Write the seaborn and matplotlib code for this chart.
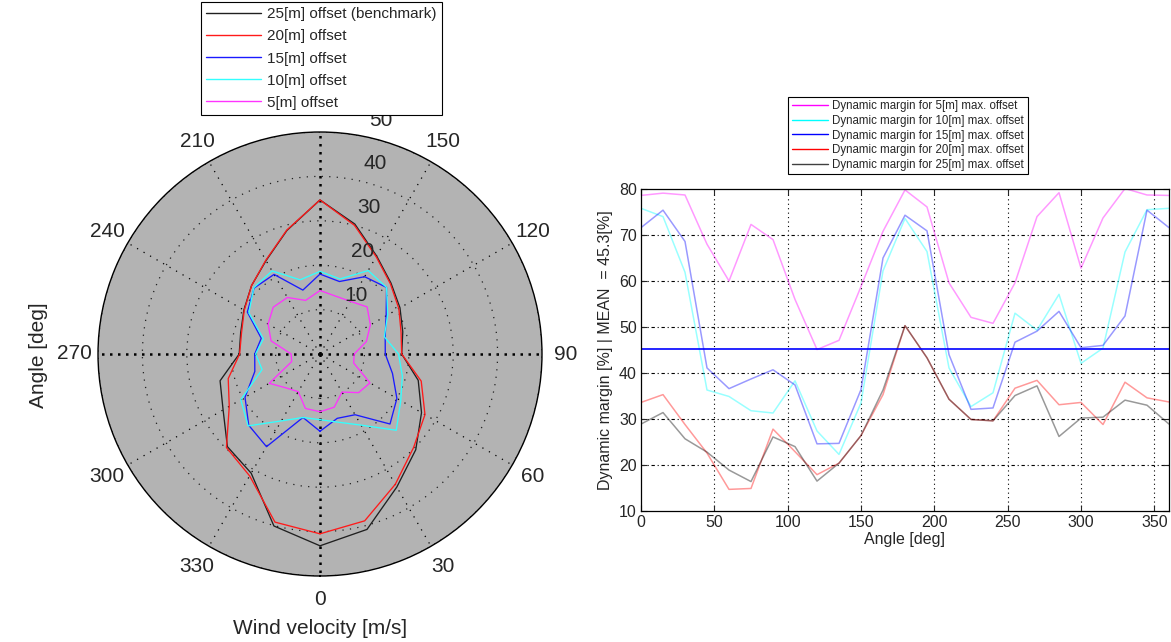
import numpy as np
import pandas as pd
import matplotlib
matplotlib.use("Agg")
import matplotlib.pyplot as plt
import matplotlib.transforms as mtransforms
from matplotlib.lines import Line2D
import seaborn as sns

# ---------------- data ----------------
# polar chart: wind velocity limit [m/s] per heading, 15 deg steps
polar_angles = list(range(0, 360, 15))
vel_25m = [43.2, 40.9, 34.6, 30.5, 26.4, 22.9, 18.4, 19.3, 20.8, 22.6, 25.5, 30.3,
           34.7, 28.8, 24.3, 21.8, 19.8, 18.5, 18.2, 23.3, 25.2, 29.5, 31.0, 40.1]
vel_20m = [40.5, 38.9, 33.9, 29.8, 27.3, 23.6, 18.4, 18.9, 20.5, 22.4, 25.3, 30.0,
           34.7, 28.9, 24.4, 21.8, 19.7, 18.3, 18.1, 21.4, 23.6, 29.8, 31.7, 39.2]
vel_15m = [17.4, 15.0, 15.8, 22.3, 20.0, 16.9, 14.7, 15.2, 17.2, 21.2, 20.1, 16.9,
           18.0, 14.9, 20.7, 21.0, 18.9, 13.7, 14.7, 15.2, 19.5, 22.7, 24.1, 14.8]
vel_10m = [14.8, 15.9, 18.5, 24.3, 21.0, 19.2, 17.7, 15.0, 17.6, 21.2, 21.7, 17.5,
           18.6, 17.3, 21.6, 21.1, 18.5, 13.2, 14.5, 13.5, 20.6, 22.9, 17.4, 14.8]
vel_5m = [13.0, 12.4, 9.9, 12.3, 13.0, 7.85, 7.7, 10.8, 13.1, 15.0, 13.7, 13.5,
          14.3, 12.5, 14.7, 14.9, 13.5, 11.4, 6.5, 6.6, 13.2, 10.8, 9.8, 12.7]
polar_labels = ["25[m] offset (benchmark)", "20[m] offset", "15[m] offset",
                "10[m] offset", "5[m] offset"]
polar_colors = ["#202020", "#ff1a1a", "#1a1aff", "#33ffff", "#ff33ff"]

# line chart: dynamic margin [%] per heading
margin_angles = list(range(0, 361, 15))
margin_5m = [78.6, 79.1, 78.7, 68.0, 60.0, 72.3, 69.0, 56.0, 45.1, 47.1, 58.8, 70.8, 79.8,
             76.1, 59.6, 52.1, 50.8, 59.6, 74.0, 79.2, 62.8, 73.7, 80.1, 78.7, 78.6]
margin_10m = [75.8, 74.0, 61.9, 36.3, 34.9, 31.8, 31.3, 38.3, 27.4, 22.3, 33.5, 62.2, 73.6,
              66.4, 41.1, 32.7, 35.7, 53.0, 49.3, 57.1, 42.1, 45.4, 66.3, 75.5, 75.8]
margin_15m = [71.6, 75.4, 68.6, 41.1, 36.6, 38.7, 40.7, 37.4, 24.6, 24.7, 36.4, 65.0, 74.3,
              70.9, 44.0, 32.1, 32.4, 46.7, 49.1, 53.4, 45.5, 46.0, 52.4, 75.4, 71.6]
margin_20m = [33.6, 35.3, 28.8, 22.6, 14.7, 14.9, 27.8, 22.9, 17.9, 20.4, 26.4, 35.3, 50.3,
              43.3, 34.3, 29.9, 29.6, 36.7, 38.4, 33.1, 33.6, 28.8, 38.0, 34.6, 33.7]
margin_25m = [28.9, 31.4, 25.7, 22.8, 18.9, 16.4, 26.1, 24.0, 16.5, 20.4, 26.4, 36.3, 50.3,
              43.3, 34.3, 29.9, 29.6, 35.1, 37.2, 26.2, 30.2, 30.4, 34.1, 33.0, 28.9]
margin_labels = ["Dynamic margin for 5[m] max. offset", "Dynamic margin for 10[m] max. offset",
                 "Dynamic margin for 15[m] max. offset", "Dynamic margin for 20[m] max. offset",
                 "Dynamic margin for 25[m] max. offset"]
margin_colors = ["#ff00ff", "#00ffff", "#0000ff", "#ff0000", "#000000"]
margin_mean = 45.3

# ---------------- style ----------------
sns.set_style("white")
plt.rcParams["font.family"] = ["Liberation Sans", "DejaVu Sans"]

fig = plt.figure(figsize=(11.71, 6.42), dpi=100)

# ---------------- polar chart ----------------
axp = fig.add_axes([98 / 1171, 66 / 642, 444 / 1171, 444 / 642], projection="polar")
axp.set_theta_zero_location("S")
axp.set_theta_direction(1)
axp.set_facecolor("#b3b3b3")
axp.set_ylim(0, 50)

polar_series = [vel_25m, vel_20m, vel_15m, vel_10m, vel_5m]
for vals, col, lab in zip(polar_series, polar_colors, polar_labels):
    th = np.deg2rad(polar_angles + [polar_angles[0]])
    rr = vals + [vals[0]]
    df = pd.DataFrame({"theta": th, "r": rr})
    sns.lineplot(data=df, x="theta", y="r", ax=axp, sort=False, estimator=None,
                 color=col, linewidth=0.95, label=lab, legend=False)

axp.set_xlabel("")
axp.set_ylabel("")
axp.set_rticks([10, 20, 30, 40, 50])
axp.set_yticklabels([])
axp.set_thetagrids(range(0, 360, 30), [str(a) for a in range(0, 360, 30)])
axp.tick_params(axis="x", labelsize=15, pad=10, length=0)
axp.grid(True)
for gl in axp.yaxis.get_gridlines():
    gl.set_color("#202020")
    gl.set_linewidth(0.9)
    gl.set_linestyle((0, (1, 5)))
for a, gl in zip(range(0, 360, 30), axp.xaxis.get_gridlines()):
    gl.set_color("black")
    if a % 90 == 0:
        gl.set_linewidth(1.8)
        gl.set_linestyle((0, (1, 2.2)))
    else:
        gl.set_linewidth(0.9)
        gl.set_linestyle((0, (1, 5)))
axp.spines["polar"].set_color("black")
axp.spines["polar"].set_linewidth(1.0)

# radial tick labels, set just outside each ring
rlab_trans = axp.transData + mtransforms.ScaledTranslation(21.5 / 72, 8.6 / 72, fig.dpi_scale_trans)
for v in [10, 20, 30, 40, 50]:
    axp.text(np.deg2rad(172), v + 0.5, str(v), transform=rlab_trans, ha="center",
             va="center", fontsize=15, clip_on=False)

fig.text(320 / 1171, 1 - 628 / 642, "Wind velocity [m/s]", ha="center", va="center", fontsize=15)
fig.text(38 / 1171, 1 - 355 / 642, "Angle [deg]", ha="center", va="center", fontsize=15,
         rotation=90)

polar_handles = [Line2D([], [], color=c, lw=1.0) for c in polar_colors]
leg1 = fig.legend(polar_handles, polar_labels, loc="upper center",
                  bbox_to_anchor=(321.5 / 1171, 1 - 2 / 642), fontsize=11,
                  borderaxespad=0, frameon=True, fancybox=False, framealpha=1,
                  edgecolor="black", handlelength=3.6, labelspacing=0.53,
                  borderpad=0.35, handletextpad=0.4)
leg1.get_frame().set_linewidth(0.8)

# ---------------- line chart ----------------
axl = fig.add_axes([641 / 1171, 131 / 642, 528 / 1171, 322 / 642])
margin_series = [margin_5m, margin_10m, margin_15m, margin_20m, margin_25m]
for vals, col in zip(margin_series, margin_colors):
    df = pd.DataFrame({"angle": margin_angles, "margin": vals})
    sns.lineplot(data=df, x="angle", y="margin", ax=axl, color=col, alpha=0.4,
                 linewidth=1.1, legend=False)
axl.axhline(margin_mean, color="#0000ff", linewidth=1.2)

axl.set_xlim(0, 360)
axl.set_ylim(10, 80)
axl.set_xticks(range(0, 351, 50))
axl.set_yticks(range(10, 81, 10))
axl.tick_params(axis="both", labelsize=11.5, direction="in", length=4, width=0.8,
                top=True, right=True, bottom=True, left=True, pad=3)
for gl_x in range(50, 351, 50):
    axl.axvline(gl_x, color="black", linewidth=0.8, linestyle=(0, (1, 3)), zorder=0.5)
for gl_y in range(20, 80, 10):
    axl.axhline(gl_y, color="black", linewidth=0.8, linestyle=(0, (3, 2.5, 1, 2.5)), zorder=0.5)
for sp in axl.spines.values():
    sp.set_color("black")
    sp.set_linewidth(0.9)
axl.set_xlabel("Angle [deg]", fontsize=11.5, labelpad=1)
axl.set_ylabel(f"Dynamic margin [%] | MEAN  = {margin_mean:.1f}[%]", fontsize=11.5, labelpad=4)

margin_handles = [Line2D([], [], color=c, lw=1.0) for c in margin_colors]
margin_handles[-1].set_color("#404040")
leg2 = fig.legend(margin_handles, margin_labels, loc="upper center",
                  bbox_to_anchor=(908 / 1171, 1 - 97 / 642), fontsize=8.3,
                  borderaxespad=0, frameon=True, fancybox=False, framealpha=1,
                  edgecolor="black", handlelength=3.1, labelspacing=0.22,
                  borderpad=0.3, handletextpad=0.4)
leg2.get_frame().set_linewidth(0.8)

fig.savefig("out.png", dpi=100, facecolor="white")
